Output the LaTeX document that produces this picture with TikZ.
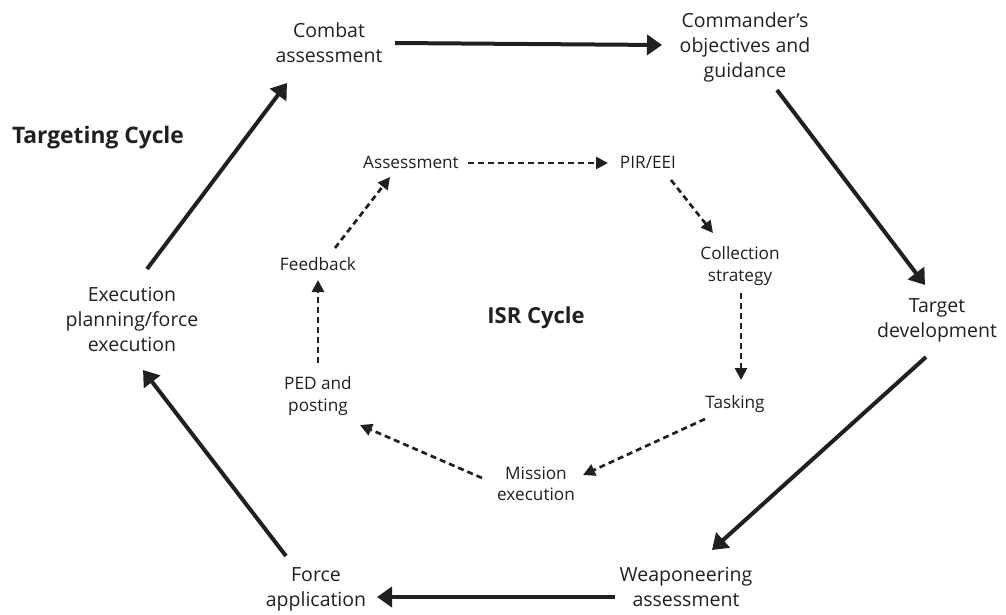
\documentclass[tikz,border=0pt]{standalone}
\usepackage{fontspec}
\setmainfont{Open Sans}
\usetikzlibrary{arrows.meta,calc}
\definecolor{ink}{HTML}{231F20}

\begin{document}
\begin{tikzpicture}[x=1pt,y=-1pt,
    outer/.style={align=center,font=\fontsize{19.5}{25}\selectfont,text=ink,inner sep=0pt},
    inner/.style={font=\fontsize{17.2}{21.5}\selectfont,text=ink,inner sep=0pt},
    cyclename/.style={font=\bfseries\fontsize{22}{26}\selectfont,text=ink,anchor=base,inner sep=0pt},
    tarrow/.style={draw=ink,line width=4pt,-{Triangle[length=15pt,width=20pt]}},
    iarrow/.style={draw=ink,line width=2.7pt,dash pattern=on 6pt off 4pt,-{Triangle[length=12pt,width=12pt]}}]
    \useasboundingbox (0,0) rectangle (1006,614);

    % Targeting cycle
    \node[outer] (comb) at (329,43) {Combat\\assessment};
    \node[outer] (cmd) at (745,47) {Commander’s\\objectives and\\guidance};
    \node[outer] (tgt) at (937,320) {Target\\development};
    \node[outer] (weap) at (686,587) {Weaponeering\\assessment};
    \node[outer] (force) at (316,589.5) {Force\\application};
    \node[outer] (exec) at (132,319.5) {Execution\\planning/force\\execution};
    \node[cyclename,font=\bfseries\fontsize{22.8}{26}\selectfont] (tc) at (98,143) {Targeting Cycle};

    \draw[tarrow] ($(comb)+(66,0)$) -- ($(cmd)+(-83,-2)$);
    \draw[tarrow] ($(cmd)+(32,43)$) -- ($(tgt)+(-12,-35)$);
    \draw[tarrow] ($(tgt)+(-11,37)$) -- ($(weap)+(26,-37)$);
    \draw[tarrow] ($(weap)+(-71,10)$) -- ($(force)+(61,7.5)$);
    \draw[tarrow] ($(force)+(-30,-33.5)$) -- ($(exec)+(11,50.5)$);
    \draw[tarrow] ($(exec)+(15,-50.5)$) -- ($(comb)+(-42,40)$);

    % ISR cycle
    \node[inner,anchor=base] (asm) at (411,168) {Assessment};
    \node[inner,anchor=base] (pir) at (648,168) {PIR/EEI};
    \node[inner,align=center] (col) at (740,266) {Collection\\strategy};
    \node[inner,anchor=base] (task) at (735,408) {Tasking};
    \node[inner,align=center] (mis) at (536,484) {Mission\\execution};
    \node[inner,align=center] (ped) at (318,396) {PED and\\posting};
    \node[inner,anchor=base] (fb) at (318,270) {Feedback};
    \node[cyclename] (isr) at (536,323) {ISR Cycle};

    \draw[iarrow] ($(asm.base)+(57,-5)$) -- ($(pir.base)+(-40,-5)$);
    \draw[iarrow] ($(pir.base)+(23,12)$) -- ($(col)+(-27,-33)$);
    \draw[iarrow] ($(col)+(1,27)$) -- ($(task.base)+(6,-28)$);
    \draw[iarrow] ($(task.base)+(-30,11)$) -- ($(mis)+(47,-9)$);
    \draw[iarrow] ($(mis)+(-54,-6)$) -- ($(ped)+(42,29)$);
    \draw[iarrow] ($(ped)+(0,-33)$) -- ($(fb.base)+(0,10)$);
    \draw[iarrow] ($(fb.base)+(17,-22)$) -- ($(asm.base)+(-21,9)$);
\end{tikzpicture}
\end{document}
